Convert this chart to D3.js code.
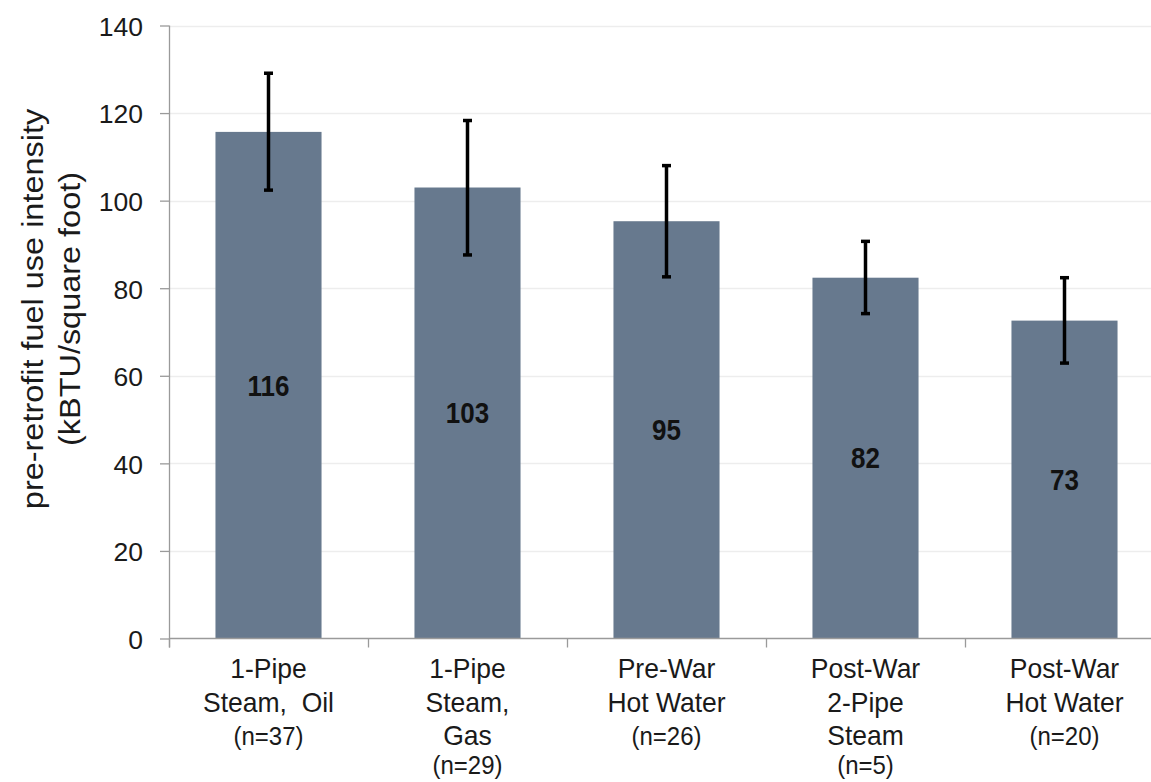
<!DOCTYPE html>
<html>
<head>
<meta charset="utf-8">
<script src="https://cdn.jsdelivr.net/npm/d3@7"></script>
<style>
  html, body { margin: 0; padding: 0; background: #ffffff; }
  svg { display: block; font-family: "Liberation Sans", Arial, sans-serif; }
</style>
</head>
<body>
<svg id="chart" width="1151" height="782"></svg>
<script>
// ---- data ----
const categories = [
  ["1-Pipe", "Steam,  Oil", "(n=37)"],
  ["1-Pipe", "Steam,", "Gas", "(n=29)"],
  ["Pre-War", "Hot Water", "(n=26)"],
  ["Post-War", "2-Pipe", "Steam", "(n=5)"],
  ["Post-War", "Hot Water", "(n=20)"]
];
const categoryKeys = ["c1", "c2", "c3", "c4", "c5"];
const values = [115.7, 103.0, 95.3, 82.4, 72.6];
const valueLabels = ["116", "103", "95", "82", "73"];
const errLow = [102.4, 87.6, 82.6, 74.2, 62.9];
const errHigh = [129.1, 118.3, 108.0, 90.7, 82.4];
const yTicks = [0, 20, 40, 60, 80, 100, 120, 140];
const yTitle = ["pre-retrofit fuel use intensity", "(kBTU/square foot)"];

// ---- layout ----
const svg = d3.select("#chart");
const mLeft = 169, mRight = 1164, mTop = 25.5, mBottom = 638.5;

const x = d3.scaleBand().domain(categoryKeys).range([mLeft, mRight])
  .paddingInner(0.467).paddingOuter(0.2335);
const y = d3.scaleLinear().domain([0, 140]).range([mBottom, mTop]);
const step = x.step();
const bandStart = k => x(k) - x.paddingOuter() * step;

// gridlines
svg.append("g").selectAll("line").data(yTicks.filter(d => d > 0)).join("line")
  .attr("x1", mLeft).attr("x2", 1151)
  .attr("y1", d => Math.round(y(d)) + 0.5).attr("y2", d => Math.round(y(d)) + 0.5)
  .attr("stroke", "#ededed").attr("stroke-width", 1.5);

// bars
svg.append("g").selectAll("rect").data(values).join("rect")
  .attr("x", (d, i) => x(categoryKeys[i]))
  .attr("width", x.bandwidth())
  .attr("y", d => y(d))
  .attr("height", d => y(0) - y(d))
  .attr("fill", "#67798e");

// y axis
const yAxis = d3.axisLeft(y).tickValues(yTicks).tickSize(9).tickPadding(17);
const gy = svg.append("g").attr("transform", `translate(${mLeft},0)`).call(yAxis);
gy.select(".domain").attr("d", `M0.5,${mTop}V${mBottom + 9}`).attr("stroke", "#9a9a9a").attr("stroke-width", 1.3);
gy.selectAll(".tick line").attr("stroke", "#9a9a9a").attr("stroke-width", 1.3);
gy.selectAll(".tick text").attr("font-size", 26.5).attr("fill", "#1a1a1a")
  .attr("font-family", "'Liberation Sans', Arial, sans-serif").attr("dy", "0.37em");

// x axis line
svg.append("line").attr("x1", mLeft).attr("x2", 1151)
  .attr("y1", mBottom).attr("y2", mBottom)
  .attr("stroke", "#9a9a9a").attr("stroke-width", 1.3);
// category boundary ticks
svg.append("g").selectAll("line").data(categoryKeys).join("line")
  .attr("x1", k => bandStart(k) + 0.5).attr("x2", k => bandStart(k) + 0.5)
  .attr("y1", mBottom).attr("y2", mBottom + 9)
  .attr("stroke", "#9a9a9a").attr("stroke-width", 1.3);

// category labels
const cg = svg.append("g").attr("fill", "#1a1a1a").attr("text-anchor", "middle");
categories.forEach((lines, i) => {
  const cx = x(categoryKeys[i]) + x.bandwidth() / 2;
  lines.forEach((ln, j) => {
    const isN = ln.startsWith("(n=");
    const by = mBottom + 39.5 + j * 33.5 - (j === 3 ? 5 : 0);
    cg.append("text")
      .attr("transform", `translate(${cx},${by}) scale(1,1.05)`)
      .attr("font-size", isN ? 24 : 26.5)
      .attr("xml:space", "preserve")
      .style("white-space", "pre")
      .text(ln);
  });
});

// error bars
const eg = svg.append("g").attr("stroke", "#000").attr("stroke-width", 3.5);
values.forEach((v, i) => {
  const cx = x(categoryKeys[i]) + x.bandwidth() / 2;
  eg.append("line").attr("x1", cx).attr("x2", cx).attr("y1", y(errHigh[i])).attr("y2", y(errLow[i]));
  eg.append("line").attr("x1", cx - 4.5).attr("x2", cx + 4.5).attr("y1", y(errHigh[i])).attr("y2", y(errHigh[i]));
  eg.append("line").attr("x1", cx - 4.5).attr("x2", cx + 4.5).attr("y1", y(errLow[i])).attr("y2", y(errLow[i]));
});

// value labels (centered in the bar)
svg.append("g").selectAll("text").data(values).join("text")
  .attr("transform", (d, i) => `translate(${x(categoryKeys[i]) + x.bandwidth() / 2},${y(d / 2)}) scale(1,1.1)`)
  .attr("dy", "0.36em")
  .attr("text-anchor", "middle")
  .attr("font-size", 26).attr("font-weight", "bold").attr("fill", "#111")
  .text((d, i) => valueLabels[i]);

// y axis title
const tg = svg.append("g").attr("transform", "translate(0,309) rotate(-90) scale(1.1,1)")
  .attr("text-anchor", "middle").attr("font-size", 29.5).attr("fill", "#1a1a1a");
tg.append("text").attr("x", 0).attr("y", 43).text(yTitle[0]);
tg.append("text").attr("x", 0).attr("y", 80).text(yTitle[1]);
</script>
</body>
</html>
